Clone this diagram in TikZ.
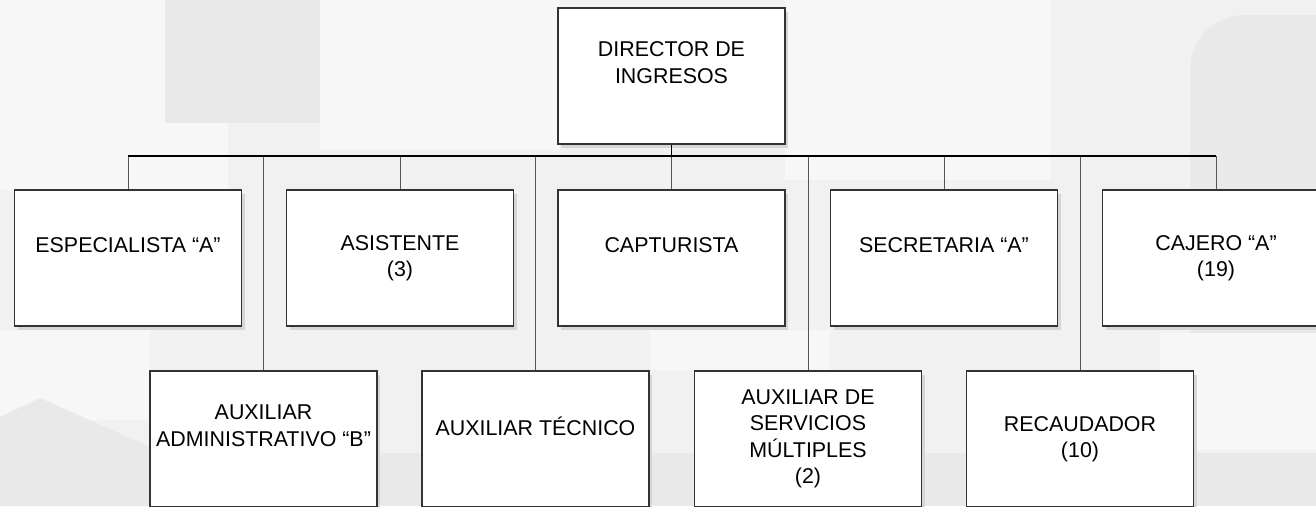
\documentclass[tikz,border=0pt]{standalone}
\usepackage{fontspec}
\setmainfont{Liberation Sans}
\usetikzlibrary{shadows}
\definecolor{bgbase}{HTML}{F1F1F1}
\definecolor{bglight}{HTML}{F7F7F7}
\definecolor{bgdark}{HTML}{E9E9E9}
\definecolor{boxline}{HTML}{333333}
\definecolor{dropline}{HTML}{555555}
\tikzset{
  posbox/.style={draw=boxline, line width=1.2pt, fill=white, minimum width=227pt,
    minimum height=136pt, inner sep=1pt, align=center,
    font=\fontsize{21.4}{26.5}\selectfont,
    drop shadow={shadow xshift=3pt, shadow yshift=-4pt, fill=black!16, opacity=1}},
  busline/.style={draw=black, line width=1.1pt},
  stemline/.style={draw=black, line width=1.8pt},
  dropwire/.style={draw=dropline, line width=0.9pt}
}
\begin{document}
\begin{tikzpicture}[x=1pt,y=-1pt]
\useasboundingbox (0,0) rectangle (1316,506);
% background
\fill[bgbase] (0,0) rectangle (1316,506);
\fill[bglight] (0,0) rectangle (165,123);
\fill[bglight] (0,123) rectangle (228,190);
\fill[bgdark] (165,0) rectangle (320,123);
\fill[bglight] (320,0) rectangle (560,150);
\fill[bglight] (785,0) rectangle (1050,180);
\fill[bglight] (0,330) rectangle (150,420);
\fill[bgdark] (0,417) -- (40,398) -- (150,447) -- (150,506) -- (0,506) -- cycle;
\fill[bgdark] (1190,333) -- (1190,70) arc[start angle=180, end angle=270, radius=55] -- (1316,15) -- (1316,333) -- cycle;
\fill[bglight] (1160,333) rectangle (1316,450);
\fill[bgdark] (377,453) rectangle (1316,506);
\fill[bglight] (650,330) rectangle (830,370);

% nodes
\node[posbox] (dir) at (671.5,76) {DIRECTOR DE\\INGRESOS\\\phantom{X}};
\node[posbox] (esp) at (128,258) {ESPECIALISTA “A”\\\phantom{X}};
\node[posbox] (asi) at (400,258) {ASISTENTE\\(3)};
\node[posbox] (cap) at (671.5,258) {CAPTURISTA\\\phantom{X}};
\node[posbox] (sec) at (944,258) {SECRETARIA “A”\\\phantom{X}};
\node[posbox] (caj) at (1216,258) {CAJERO “A”\\(19)};
\node[posbox] (adm) at (263.5,439) {AUXILIAR\\ADMINISTRATIVO “B”\\\phantom{X}};
\node[posbox] (tec) at (535.5,439) {AUXILIAR TÉCNICO\\\phantom{X}};
\node[posbox] (ser) at (808,439) {AUXILIAR DE\\SERVICIOS\\MÚLTIPLES\\(2)};
\node[posbox] (rec) at (1080,439) {RECAUDADOR\\(10)};

% connectors
\coordinate (busy) at (0,156);
\draw[dropwire] (esp.north) -- (esp.north |- busy);
\draw[dropwire] (asi.north) -- (asi.north |- busy);
\draw[dropwire] (cap.north) -- (cap.north |- busy);
\draw[dropwire] (sec.north) -- (sec.north |- busy);
\draw[dropwire] (caj.north) -- (caj.north |- busy);
\draw[dropwire] (adm.north) -- (adm.north |- busy);
\draw[dropwire] (tec.north) -- (tec.north |- busy);
\draw[dropwire] (ser.north) -- (ser.north |- busy);
\draw[dropwire] (rec.north) -- (rec.north |- busy);
\draw[busline] (esp.north |- busy) -- (caj.north |- busy);
\draw[stemline] (dir.south) -- (dir.south |- busy);
\end{tikzpicture}
\end{document}
